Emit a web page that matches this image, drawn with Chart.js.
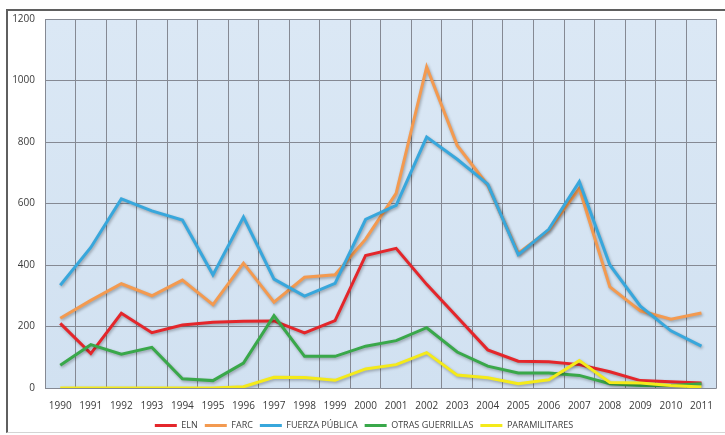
<!DOCTYPE html>
<html>
<head>
<meta charset="utf-8">
<script src="https://cdn.jsdelivr.net/npm/chart.js@4.4.1/dist/chart.umd.min.js"></script>
<style>
    body { margin: 0; background: #ffffff; overflow: hidden; }
    #marco {
        position: absolute; left: 6px; top: 9px; width: 730px; height: 421px;
        border-top: 2px solid #5f5f5f; border-left: 2px solid #5f5f5f; border-bottom: 1px solid #d4d4d4;
    }
    #caja { position: absolute; left: 0; top: 0; width: 725px; height: 440px; }
</style>
</head>
<body>
<div id="marco"></div>
<div id="caja"><canvas id="grafico"></canvas></div>
<script>
// datos
const anios = ["1990", "1991", "1992", "1993", "1994", "1995", "1996", "1997", "1998", "1999", "2000",
    "2001", "2002", "2003", "2004", "2005", "2006", "2007", "2008", "2009", "2010", "2011"];

const eln = [210, 112, 243, 180, 205, 214, 217, 218, 179, 219, 431, 454, 337, 231, 124, 87, 85, 76, 53, 24, 20, 16];
const farc = [227, 285, 339, 300, 351, 271, 406, 279, 360, 368, 484, 633, 1044, 789, 660, 438, 513, 649, 329, 251, 224, 244];
const fuerzaPublica = [334, 457, 615, 576, 546, 368, 556, 354, 299, 340, 548, 594, 816, 744, 663, 434, 516, 671, 400, 266, 186, 136];
const otrasGuerrillas = [74, 141, 110, 132, 30, 24, 81, 235, 103, 103, 136, 154, 196, 117, 71, 49, 49, 41, 14, 8, 8, 14];
const paramilitares = [0, 0, 0, 0, 0, 0, 4, 35, 34, 25, 62, 76, 115, 42, 33, 14, 27, 89, 18, 16, 8, 3];

const ticksY = [0, 200, 400, 600, 800, 1000, 1200];

function serie(nombre, datos, color, orden) {
    return {
        label: nombre,
        data: datos,
        borderColor: color,
        backgroundColor: color,
        borderWidth: 3,
        pointRadius: 0,
        tension: 0,
        order: orden
    };
}

// fondo azul del area de trazado
const fondoPlot = {
    id: "fondoPlot",
    beforeDraw(chart) {
        const { ctx, chartArea: a } = chart;
        const g = ctx.createLinearGradient(0, a.top, 0, a.bottom);
        g.addColorStop(0, "#dbe8f5");
        g.addColorStop(1, "#d1e1f1");
        ctx.save();
        ctx.fillStyle = g;
        ctx.fillRect(a.left, a.top, a.right - a.left, a.bottom - a.top);
        ctx.restore();
    }
};

// sombra de las lineas, como en excel
const sombra = {
    id: "sombra",
    beforeDatasetsDraw(chart) {
        const ctx = chart.ctx;
        ctx.save();
        ctx.shadowColor = "rgba(0,0,0,0.3)";
        ctx.shadowBlur = 3;
        ctx.shadowOffsetX = 1;
        ctx.shadowOffsetY = 1.5;
    },
    afterDatasetsDraw(chart) {
        chart.ctx.restore();
    }
};

new Chart(document.getElementById("grafico"), {
    type: "line",
    data: {
        labels: anios,
        datasets: [
            serie("ELN", eln, "#e4262b", 5),
            serie("FARC", farc, "#f39a50", 4),
            serie("FUERZA PÚBLICA", fuerzaPublica, "#38a7dc", 3),
            serie("OTRAS GUERRILLAS", otrasGuerrillas, "#39a84a", 2),
            serie("PARAMILITARES", paramilitares, "#f4ea1a", 1)
        ]
    },
    options: {
        responsive: true,
        maintainAspectRatio: false,
        animation: false,
        layout: {
            padding: { top: 19, left: 8, right: 5, bottom: 0 }
        },
        plugins: {
            legend: {
                display: true,
                position: "bottom",
                labels: {
                    usePointStyle: true,
                    pointStyle: "line",
                    pointStyleWidth: 22,
                    padding: 7,
                    color: "#404040",
                    font: { family: "Open Sans", size: 9 },
                    sort: (a, b) => a.datasetIndex - b.datasetIndex
                }
            },
            tooltip: { enabled: false }
        },
        scales: {
            x: {
                offset: true,
                afterFit(eje) { eje.height = 26; },
                grid: {
                    offset: true,
                    color: "#858993",
                    lineWidth: 1,
                    drawTicks: false
                },
                border: { display: false },
                ticks: {
                    color: "#3a3a3a",
                    font: { family: "Open Sans", size: 10 },
                    padding: 12,
                    maxRotation: 0,
                    autoSkip: false
                }
            },
            y: {
                min: 0,
                max: 1200,
                afterFit(eje) { eje.width = 37; },
                afterBuildTicks(eje) { eje.ticks = ticksY.map(v => ({ value: v })); },
                grid: {
                    color: "#858993",
                    lineWidth: 1,
                    drawTicks: false
                },
                border: { display: false },
                ticks: {
                    color: "#3a3a3a",
                    font: { family: "Open Sans", size: 10 },
                    padding: 10,
                    callback: v => String(v)
                }
            }
        }
    },
    plugins: [fondoPlot, sombra]
});
</script>
</body>
</html>
